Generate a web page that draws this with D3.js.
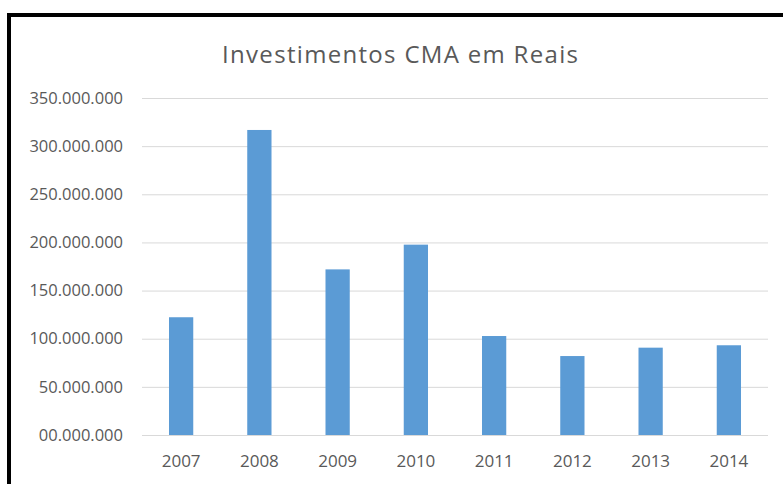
<!DOCTYPE html>
<html>
<head>
<meta charset="utf-8">
<script src="https://cdn.jsdelivr.net/npm/d3@7"></script>
<style>
  body { margin: 0; background: #fff; }
  svg text { font-family: "Open Sans", "Noto Sans", sans-serif; fill: #595959; }
</style>
</head>
<body>
<svg id="chart" width="783" height="484"></svg>
<script>
// values
var years = ["2007", "2008", "2009", "2010", "2011", "2012", "2013", "2014"];
var investimentos = [122300000, 316800000, 172000000, 197700000, 102800000, 82000000, 90700000, 93200000];
var yTicks = [0, 50000000, 100000000, 150000000, 200000000, 250000000, 300000000, 350000000];
var title = "Investimentos CMA em Reais";

var svg = d3.select('#chart');
var width = 783, height = 484,
    margin = {left: 142, right: 15, top: 98, bottom: 49};

// frame
svg.append('rect')
    .attr('x', 9).attr('y', 15)
    .attr('width', width + 20).attr('height', height)
    .attr('fill', '#fff')
    .attr('stroke', '#000')
    .attr('stroke-width', 4)

var xScale = d3.scaleBand()
    .domain(years)
    .range([margin.left, width - margin.right])
    .paddingInner(0.69)
    .paddingOuter(0.345)

var yScale = d3.scaleLinear()
    .domain([0, 350000000])
    .range([height - margin.bottom, margin.top])

var fmt = function (d) {
    var s = d3.format(",")(d).replace(/,/g, '.');
    return d === 0 ? '00.000.000' : s;
}

// grid
svg.append('g')
    .selectAll('line')
    .data(yTicks)
    .enter()
    .append('line')
    .attr('x1', margin.left)
    .attr('x2', width - margin.right)
    .attr('y1', function (d) { return yScale(d) + 0.5 })
    .attr('y2', function (d) { return yScale(d) + 0.5 })
    .attr('stroke', '#d9d9d9')
    .attr('stroke-width', 1)

var yAxis = d3.axisLeft(yScale)
    .tickValues(yTicks)
    .tickFormat(fmt)
    .tickSize(0)
    .tickPadding(19)
var gy = svg.append('g')
    .attr('transform', 'translate(' + margin.left + ',0)')
    .call(yAxis)
gy.select('.domain').remove()
gy.selectAll('text')
    .attr('font-size', 16.5)
    .attr('font-family', null)

svg.selectAll('.bar')
    .data(investimentos)
    .enter()
    .append('rect')
    .attr('class', 'bar')
    .attr('x', function (d, i) { return xScale(years[i]) })
    .attr('width', xScale.bandwidth())
    .attr('y', function (d) { return yScale(d) })
    .attr('height', function (d) { return yScale(0) - yScale(d) })
    .attr('fill', '#5b9bd5')

var xAxis = d3.axisBottom(xScale)
    .tickSize(0)
    .tickPadding(20)
var gx = svg.append('g')
    .attr('transform', 'translate(0,' + yScale(0) + ')')
    .call(xAxis)
gx.select('.domain').remove()
gx.selectAll('text')
    .attr('font-size', 17)
    .attr('font-family', null)

svg.append('text')
    .attr('x', 400)
    .attr('y', 63)
    .attr('text-anchor', 'middle')
    .attr('font-size', 24)
    .attr('textLength', 356)
    .text(title)
</script>
</body>
</html>
